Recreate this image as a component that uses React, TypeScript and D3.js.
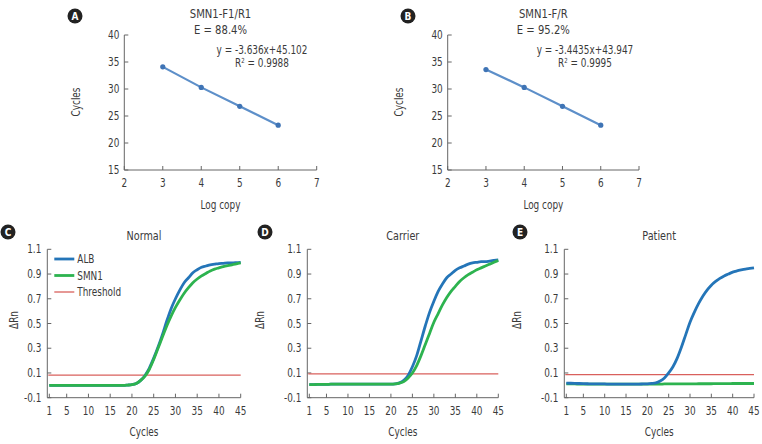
import React from "react";
import * as d3 from "d3";

// standard curves (A, B)
const logCopy = [3, 4, 5, 6];
const cyclesA = [34.1, 30.3, 26.8, 23.3];
const cyclesB = [33.6, 30.3, 26.8, 23.3];

// amplification curves (C, D, E), one value per cycle 1..45
const cycleNo = d3.range(1, 46);
const normalALB = [
  0, 0, 0, 0, 0, 0, 0, 0, 0, 0, 0, 0, 0, 0, 0, 0, 0, 0, 0.002, 0.005,
  0.015, 0.04, 0.08, 0.14, 0.22, 0.31, 0.41, 0.52, 0.62, 0.7, 0.77, 0.83, 0.87, 0.91, 0.935,
  0.955, 0.965, 0.975, 0.98, 0.985, 0.987, 0.99, 0.99, 0.992, 0.995,
];
const normalSMN1 = [
  0, 0, 0, 0, 0, 0, 0, 0, 0, 0, 0, 0, 0, 0, 0, 0, 0, 0, 0.002, 0.005,
  0.015, 0.04, 0.075, 0.13, 0.21, 0.3, 0.39, 0.48, 0.56, 0.63, 0.69, 0.745, 0.79, 0.83, 0.86,
  0.885, 0.905, 0.925, 0.94, 0.95, 0.96, 0.968, 0.975, 0.982, 0.99,
];
const carrierALB = [
  0.005, 0.006, 0.007, 0.008, 0.008, 0.009, 0.009, 0.01, 0.01, 0.01, 0.01, 0.01, 0.01, 0.01, 0.01,
  0.01, 0.01, 0.01, 0.01, 0.01, 0.012, 0.02, 0.04, 0.08, 0.15, 0.24, 0.36, 0.48, 0.59, 0.68,
  0.76, 0.82, 0.87, 0.9, 0.93, 0.95, 0.965, 0.98, 0.99, 0.995, 1.0, 1.0, 1.005, 1.01, 1.015,
];
const carrierSMN1 = [
  0.005, 0.006, 0.007, 0.008, 0.008, 0.009, 0.009, 0.01, 0.01, 0.01, 0.01, 0.01, 0.01, 0.01, 0.01,
  0.01, 0.01, 0.01, 0.01, 0.01, 0.012, 0.018, 0.03, 0.06, 0.1, 0.16, 0.24, 0.33, 0.42, 0.51,
  0.58, 0.65, 0.71, 0.76, 0.8, 0.84, 0.87, 0.895, 0.915, 0.935, 0.95, 0.965, 0.98, 0.995, 1.01,
];
const patientALB = [
  0.018, 0.017, 0.016, 0.015, 0.014, 0.013, 0.012, 0.012, 0.011, 0.011, 0.01, 0.01, 0.01, 0.01, 0.01,
  0.01, 0.01, 0.01, 0.011, 0.012, 0.015, 0.02, 0.035, 0.06, 0.1, 0.15, 0.22, 0.31, 0.41, 0.51,
  0.59, 0.66, 0.72, 0.77, 0.81, 0.84, 0.865, 0.885, 0.9, 0.915, 0.925, 0.933, 0.94, 0.945, 0.95,
];
const patientSMN1 = [
  0.012, 0.011, 0.011, 0.01, 0.01, 0.01, 0.01, 0.01, 0.01, 0.01, 0.01, 0.01, 0.01, 0.01, 0.01,
  0.01, 0.01, 0.01, 0.01, 0.01, 0.01, 0.01, 0.01, 0.011, 0.011, 0.011, 0.012, 0.012, 0.012, 0.012,
  0.012, 0.013, 0.013, 0.013, 0.013, 0.014, 0.014, 0.014, 0.014, 0.015, 0.015, 0.015, 0.015, 0.015, 0.015,
];
const thresholds = [0.083, 0.092, 0.087];

const xTicksStd = [2, 3, 4, 5, 6, 7];
const yTicksStd = [15, 20, 25, 30, 35, 40];
const xTicksAmp = [1, 5, 10, 15, 20, 25, 30, 35, 40, 45];
const yTicksAmp = [-0.1, 0.1, 0.3, 0.5, 0.7, 0.9, 1.1];

const FONT = "'DejaVu Sans Condensed', 'DejaVu Sans', sans-serif";
const TXT = "#3a3a3a";
const AX = "#666";
const BLUE = "#2475b8";
const GREEN = "#2db34f";
const RED = "#d9605c";

// narrow text: the reference uses a condensed face
function T(props: any) {
  const { x, y, children, sx = 0.86, ...rest } = props;
  return (
    <text transform={`translate(${x},${y}) scale(${sx},1)`} {...rest}>{children}</text>
  );
}

function Badge({ x, y, label }: { x: number; y: number; label: string }) {
  return (
    <g>
      <circle cx={x} cy={y} r={7.5} fill="#222" />
      <text x={x} y={y + 4} textAnchor="middle" fontSize={10} fontWeight="bold" fill="#fff"
        fontFamily="'DejaVu Sans', sans-serif">{label}</text>
    </g>
  );
}

function StdCurve(props: {
  left: number; right: number; title: string; eff: string; eq: string; r2: string;
  values: number[]; eqX: number; badgeX: number; ylabX: number; badge: string;
}) {
  const { left, right, title, eff, eq, r2, values, eqX, badgeX, ylabX, badge } = props;
  const x = d3.scaleLinear().domain([2, 7]).range([left, right]);
  const y = d3.scaleLinear().domain([15, 40]).range([170, 35]);
  const pts = logCopy.map((d, i) => [x(d), y(values[i])] as [number, number]);
  const cx = (left + right) / 2;
  return (
    <g fontFamily={FONT} fontStretch="condensed" fill={TXT}>
      <Badge x={badgeX} y={16} label={badge} />
      <T x={cx} y={18} textAnchor="middle" fontSize={13}>{title}</T>
      <T x={cx} y={34} textAnchor="middle" fontSize={13}>{eff}</T>
      <T x={eqX} y={54} textAnchor="middle" fontSize={11.5}>{eq}</T>
      <T x={eqX} y={67} textAnchor="middle" fontSize={11.5}>
        R<tspan fontSize={7} dy={-4}>2</tspan><tspan dy={4}>{" = " + r2}</tspan>
      </T>
      <line x1={left} x2={left} y1={y(40)} y2={y(15)} stroke={AX} />
      <line x1={left} x2={right} y1={y(15)} y2={y(15)} stroke={AX} />
      {yTicksStd.map((t) => (
        <g key={t}>
          <line x1={left} x2={left + 4} y1={y(t)} y2={y(t)} stroke={AX} />
          <T x={left - 5} y={y(t) + 4} textAnchor="end" fontSize={11.5}>{t}</T>
        </g>
      ))}
      {xTicksStd.map((t) => (
        <g key={t}>
          <line x1={x(t)} x2={x(t)} y1={y(15)} y2={y(15) - 4} stroke={AX} />
          <T x={x(t)} y={y(15) + 17} textAnchor="middle" fontSize={11.5}>{t}</T>
        </g>
      ))}
      <T x={cx} y={209} textAnchor="middle" fontSize={11.5}>Log copy</T>
      <text transform={`translate(${ylabX},102) rotate(-90) scale(0.86,1)`} textAnchor="middle" fontSize={11.5}>Cycles</text>
      <path d={d3.line()(pts) || ""} fill="none" stroke="#5d8fc9" strokeWidth={2.2} />
      {pts.map((p, i) => (
        <circle key={i} cx={p[0]} cy={p[1]} r={2.6} fill="#3f74b5" />
      ))}
    </g>
  );
}

function AmpPlot(props: {
  left: number; right: number; title: string; badge: string; alb: number[]; smn: number[];
  thr: number; ylabX: number; badgeX: number; legend?: boolean; albOnTop?: boolean;
}) {
  const { left, right, title, badge, alb, smn, thr, ylabX, badgeX, legend, albOnTop } = props;
  const x = d3.scaleLinear().domain([1, 45]).range([left + 2, right]);
  const y = d3.scaleLinear().domain([-0.1, 1.1]).range([397.7, 249.3]);
  const line = d3.line<number>().x((_, i) => x(cycleNo[i])).y((d) => y(d)).curve(d3.curveMonotoneX);
  const cx = (left + right) / 2;
  const albPath = <path d={line(alb) || ""} fill="none" stroke={BLUE} strokeWidth={2.8} />;
  const smnPath = <path d={line(smn) || ""} fill="none" stroke={GREEN} strokeWidth={2.8} />;
  return (
    <g fontFamily={FONT} fontStretch="condensed" fill={TXT}>
      <Badge x={badgeX} y={232} label={badge} />
      <T x={cx} y={240} textAnchor="middle" fontSize={12.5}>{title}</T>
      <line x1={left} x2={left} y1={y(1.1)} y2={y(-0.1)} stroke={AX} />
      <line x1={left} x2={right} y1={y(-0.1)} y2={y(-0.1)} stroke={AX} />
      {yTicksAmp.map((t) => (
        <g key={t}>
          <line x1={left} x2={left + 4} y1={y(t)} y2={y(t)} stroke={AX} />
          <T x={left - 6} y={y(t) + 4} textAnchor="end" fontSize={11.5}>{t.toFixed(1)}</T>
        </g>
      ))}
      {xTicksAmp.map((t) => (
        <g key={t}>
          <line x1={x(t)} x2={x(t)} y1={y(-0.1)} y2={y(-0.1) - 4} stroke={AX} />
          <T x={x(t)} y={y(-0.1) + 17} textAnchor="middle" fontSize={11.5}>{t}</T>
        </g>
      ))}
      <T x={cx} y={436} textAnchor="middle" fontSize={11.5}>Cycles</T>
      <text transform={`translate(${ylabX},320) rotate(-90) scale(0.86,1)`} textAnchor="middle" fontSize={11.5}>ΔRn</text>
      <line x1={left + 1} x2={right} y1={y(thr)} y2={y(thr)} stroke={RED} strokeWidth={1.3} />
      {albOnTop ? smnPath : albPath}
      {albOnTop ? albPath : smnPath}
      {legend && (
        <g fontSize={11.5}>
          {[["ALB", BLUE, 2.8], ["SMN1", GREEN, 2.8], ["Threshold", RED, 1.3]].map((r, i) => (
            <g key={i}>
              <line x1={left + 7} x2={left + 27} y1={259 + i * 16.5} y2={259 + i * 16.5}
                stroke={r[1] as string} strokeWidth={r[2] as number} />
              <T x={left + 30} y={263 + i * 16.5}>{r[0]}</T>
            </g>
          ))}
        </g>
      )}
    </g>
  );
}

export default function App() {
  return (
    <svg width={762} height={444} style={{ position: "absolute", left: 0, top: 0, background: "#fff" }}>
      <StdCurve left={124.3} right={316.7} title="SMN1-F1/R1" eff="E = 88.4%" eq="y = -3.636x+45.102"
        r2="0.9988" values={cyclesA} eqX={262} badgeX={75} ylabX={80} badge="A" />
      <StdCurve left={447.7} right={639} title="SMN1-F/R" eff="E = 95.2%" eq="y = -3.4435x+43.947"
        r2="0.9995" values={cyclesB} eqX={585} badgeX={408} ylabX={403} badge="B" />
      <AmpPlot left={47.3} right={240.7} title="Normal" badge="C" alb={normalALB} smn={normalSMN1}
        thr={thresholds[0]} ylabX={18} badgeX={8} legend />
      <AmpPlot left={307.3} right={498.3} title="Carrier" badge="D" alb={carrierALB} smn={carrierSMN1}
        thr={thresholds[1]} ylabX={264} badgeX={265} />
      <AmpPlot left={564.3} right={754} title="Patient" badge="E" alb={patientALB} smn={patientSMN1}
        thr={thresholds[2]} ylabX={521} badgeX={520} albOnTop />
    </svg>
  );
}
